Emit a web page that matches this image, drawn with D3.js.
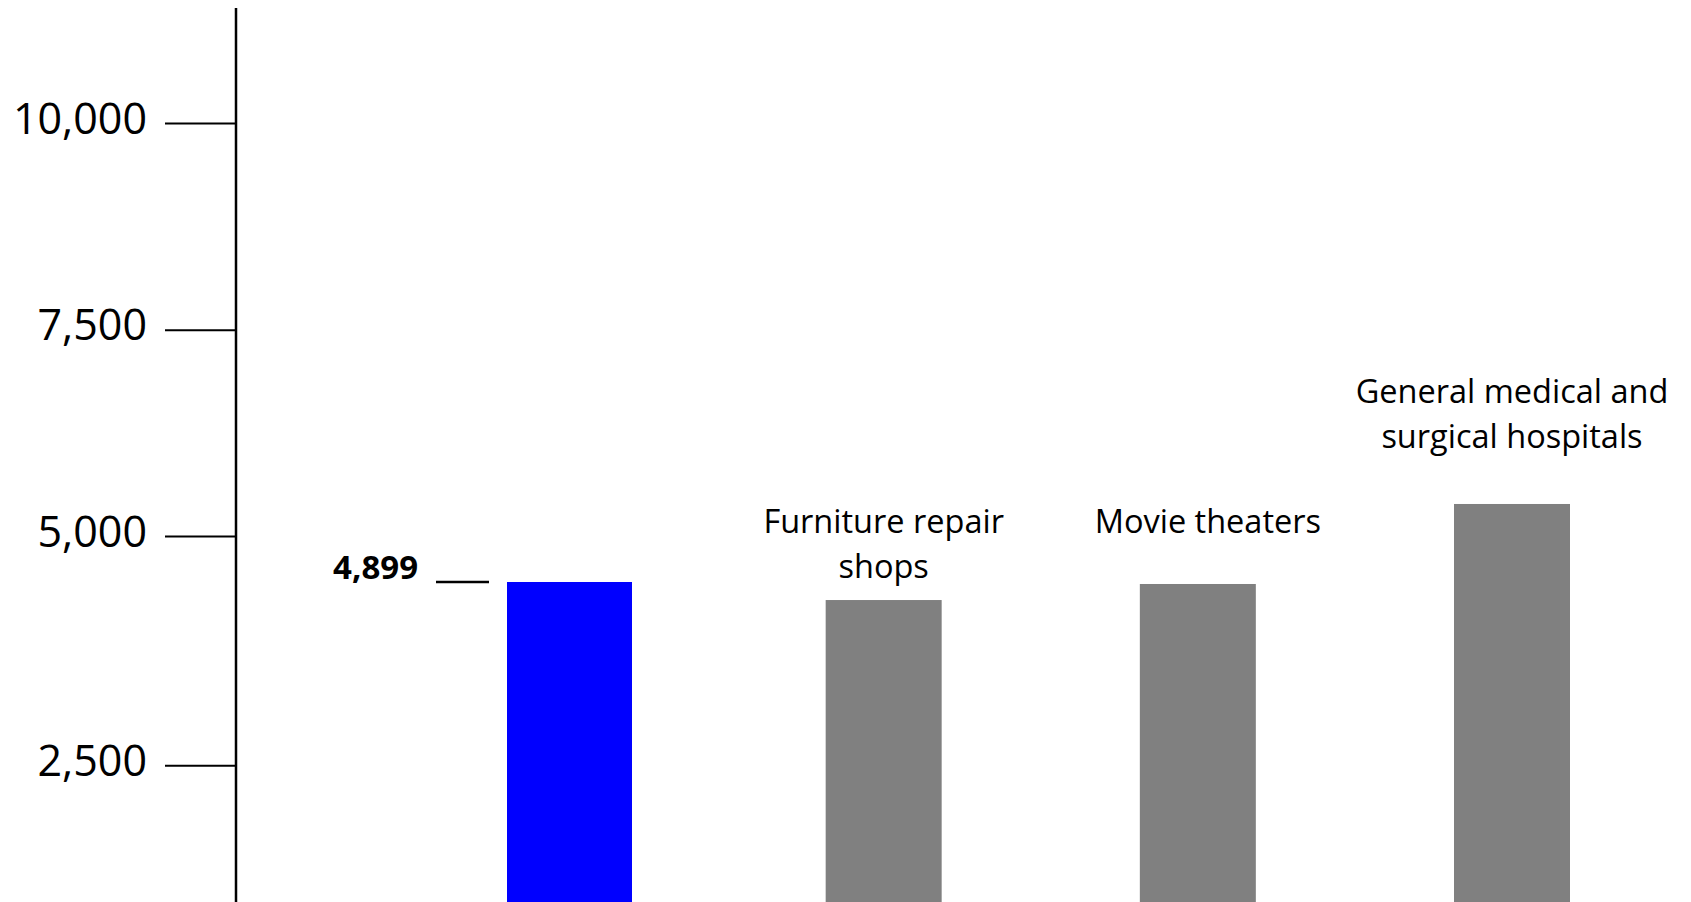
<!DOCTYPE html>
<html>
<head>
<meta charset="utf-8">
<script src="https://cdn.jsdelivr.net/npm/d3@7"></script>
<style>
  html, body { margin: 0; padding: 0; background: #ffffff; }
  svg { display: block; }
  text { font-family: "Open Sans", "Noto Sans", sans-serif; fill: #000; }
</style>
</head>
<body>
<div id="chart"></div>
<script>
// ---------------- data ----------------
const categories = ["Highlighted", "Furniture repair shops", "Movie theaters", "General medical and surgical hospitals"];
const categoryLabels = [[], ["Furniture repair", "shops"], ["Movie theaters"], ["General medical and", "surgical hospitals"]];
const values = [4899, 4663, 4873, 5388];
const highlightIndex = 0;
const highlightLabel = "4,899";
const tickValues = [2500, 5000, 7500, 10000];
const tickLabels = ["2,500", "5,000", "7,500", "10,000"];

// ---------------- layout ----------------
const W = 1691, H = 902;
const axisX = 236;
// value stops of the (piecewise) vertical scale and their pixel rows
const scaleStops = [2500, 4899, 5000, 7500, 10000];
const scaleRows = [765.3, 582, 536, 329.7, 123];
const barWidth = 116, highlightBarWidth = 125;
const labelFirstBaseline = [null, 533, 533, 403];
const labelDx = [0, 0, 10, 0];
const labelLineHeight = 44.5;

const svg = d3.select("#chart").append("svg")
  .attr("width", W).attr("height", H);

const y = d3.scaleLinear().domain(scaleStops).range(scaleRows);
const x = d3.scalePoint().domain(categories).range([569.5, 1512]);

// bars
svg.append("g").selectAll("rect")
  .data(categories)
  .join("rect")
  .attr("x", (d, i) => x(d) - (i === highlightIndex ? highlightBarWidth : barWidth) / 2)
  .attr("width", (d, i) => i === highlightIndex ? highlightBarWidth : barWidth)
  .attr("y", (d, i) => y(values[i]))
  .attr("height", (d, i) => y(0) - y(values[i]))
  .attr("fill", (d, i) => i === highlightIndex ? "#0000ff" : "#808080");

// y axis
const axis = d3.axisLeft(y)
  .tickValues(tickValues)
  .tickFormat((d, i) => tickLabels[i])
  .tickSize(71)
  .tickSizeOuter(0)
  .tickPadding(18);

const gAxis = svg.append("g")
  .attr("transform", `translate(${axisX},0)`)
  .call(axis);
gAxis.select(".domain").remove();
gAxis.selectAll(".tick line").attr("stroke", "#000").attr("stroke-width", 2);
gAxis.selectAll(".tick text")
  .attr("dy", 10)
  .style("font-size", "43px")
  .style("font-family", "'Open Sans', sans-serif")
  .attr("fill", "#000");

svg.append("line")
  .attr("x1", axisX).attr("x2", axisX)
  .attr("y1", 8).attr("y2", H)
  .attr("stroke", "#000").attr("stroke-width", 2.5);

// highlight marker + label
const hx = x(categories[highlightIndex]) - highlightBarWidth / 2;
const hy = y(values[highlightIndex]);
svg.append("line")
  .attr("x1", hx - 71).attr("x2", hx - 18)
  .attr("y1", hy).attr("y2", hy)
  .attr("stroke", "#000").attr("stroke-width", 2.3);
svg.append("text")
  .attr("x", hx - 89).attr("y", hy - 3)
  .attr("text-anchor", "end")
  .style("font-size", "33px")
  .style("font-weight", "bold")
  .text(highlightLabel);

// category labels
categories.forEach((c, i) => {
  if (!categoryLabels[i].length) return;
  const t = svg.append("text")
    .attr("text-anchor", "middle")
    .style("font-size", "32.5px");
  categoryLabels[i].forEach((line, k) => {
    t.append("tspan")
      .attr("x", x(c) + labelDx[i])
      .attr("y", labelFirstBaseline[i] + k * labelLineHeight)
      .text(line);
  });
});
</script>
</body>
</html>
